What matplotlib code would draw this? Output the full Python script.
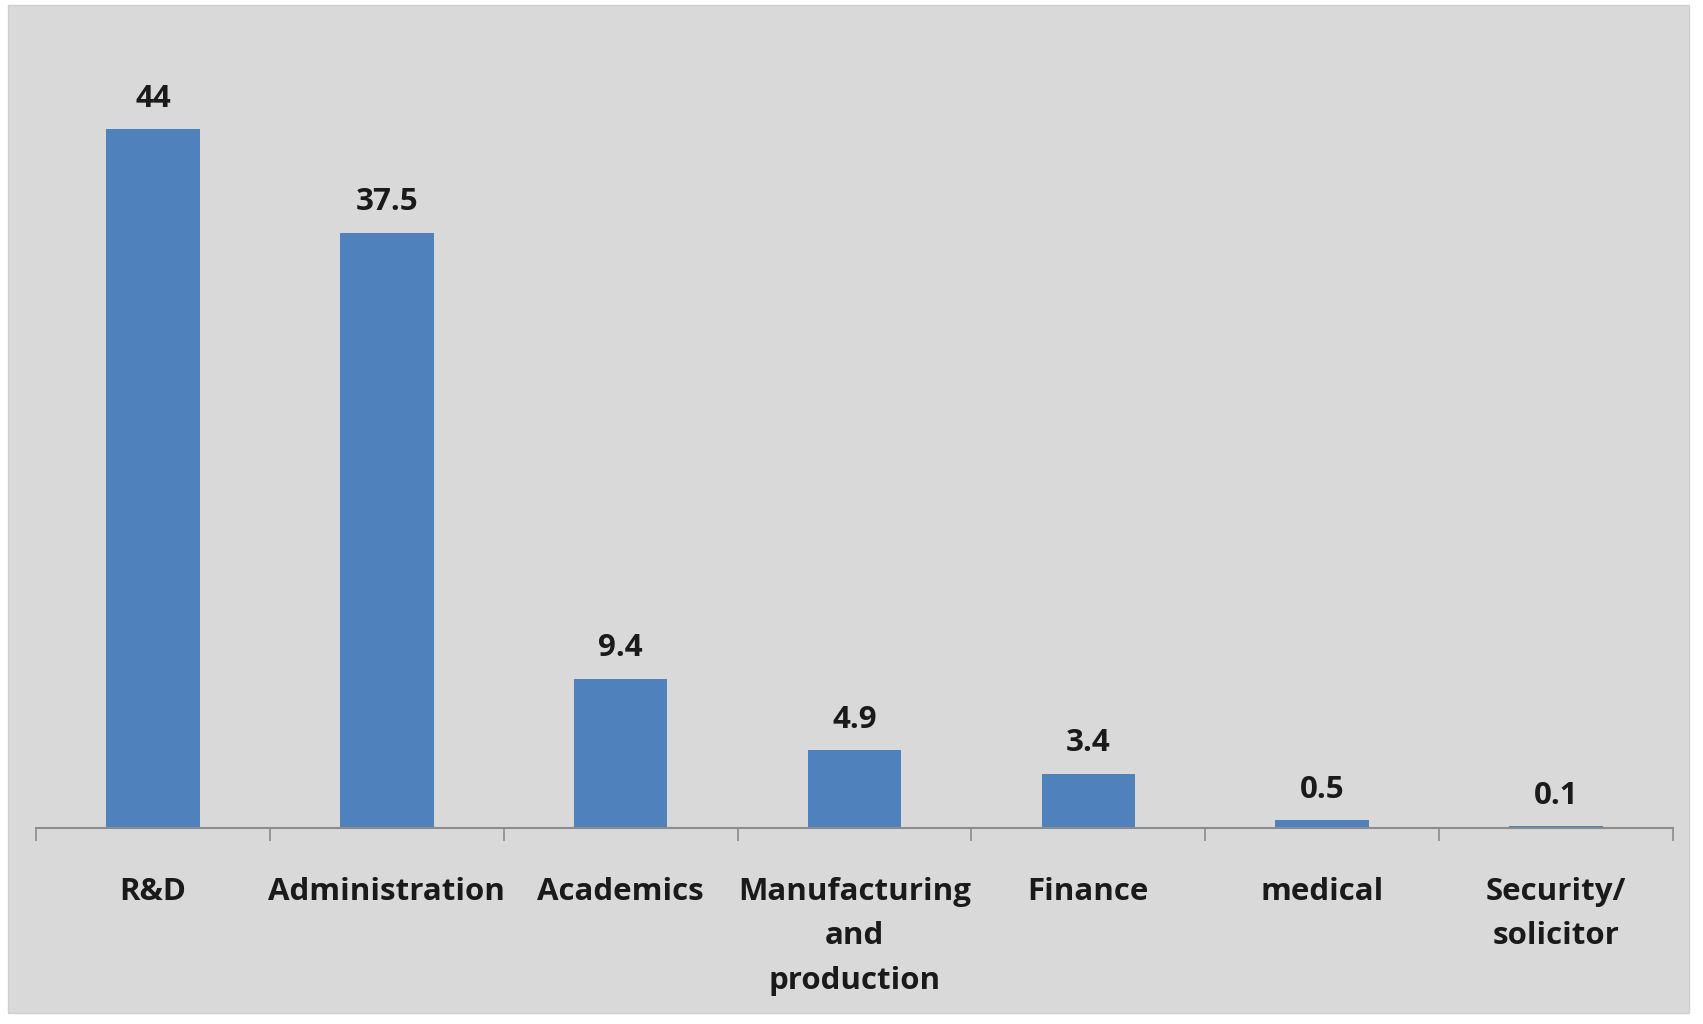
import matplotlib
matplotlib.use("Agg")
import matplotlib.pyplot as plt
from matplotlib.patches import Rectangle

categories = ["R&D", "Administration", "Academics", "Manufacturing\nand\nproduction",
              "Finance", "medical", "Security/\nsolicitor"]
values = [44, 37.5, 9.4, 4.9, 3.4, 0.5, 0.1]
value_labels = ["44", "37.5", "9.4", "4.9", "3.4", "0.5", "0.1"]

W, H, DPI = 1703, 1024, 100
fig = plt.figure(figsize=(W / DPI, H / DPI), dpi=DPI, facecolor="white")

# gray panel background
fig.patches.append(Rectangle((8 / W, 1 - 1013 / H), (1689 - 8) / W, (1013 - 5) / H,
                             transform=fig.transFigure, facecolor="#d9d9d9",
                             edgecolor="#cfcfcf", lw=1, zorder=-10))

font = "Open Sans"
left, right = 36 / W, 1673 / W
bottom = 1 - 828 / H
top = 1 - 34 / H
ax = fig.add_axes([left, bottom, right - left, top - bottom])
ax.set_facecolor("none")
ax.set_zorder(5)

x = list(range(len(categories)))
ax.bar(x, values, width=0.4, color="#4f81bd", zorder=2)
ax.set_xlim(-0.5, len(categories) - 0.5)
ax.set_ylim(0, 50)

for xi, v, lab in zip(x, values, value_labels):
    ax.annotate(lab, (xi, v), xytext=(0, 22), textcoords="offset points",
                ha="center", va="center", fontsize=22.5, fontweight="bold",
                family=font, color="#1a1a1a")

for s in ["top", "right", "left"]:
    ax.spines[s].set_visible(False)
ax.spines["bottom"].set_color("#8c8c8c")
ax.spines["bottom"].set_linewidth(1.5)
ax.set_yticks([])

ax.set_xticks(x)
ax.set_xticklabels(categories, fontsize=22.5, fontweight="bold", family=font,
                   color="#1a1a1a", linespacing=1.63)
ax.tick_params(axis="x", which="major", length=0, pad=35)
ax.set_xticks([i - 0.5 for i in range(len(categories) + 1)], minor=True)
ax.tick_params(axis="x", which="minor", length=9, width=1.2, color="#8c8c8c")

fig.savefig("out.png", dpi=DPI, facecolor="white")
